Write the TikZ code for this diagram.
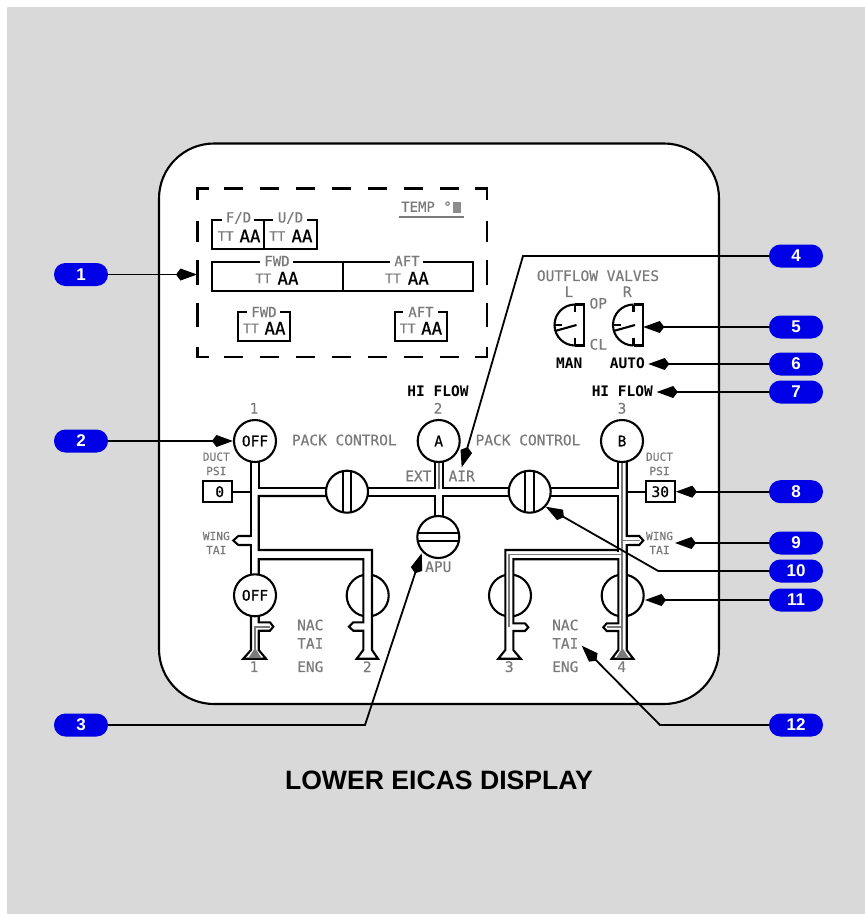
\documentclass[tikz,border=0pt]{standalone}
\usepackage{fontspec}
\setmainfont{Liberation Sans}
\newfontfamily\mono{DejaVu Sans Mono}[FakeBold=0.35]
\newfontfamily\monom{DejaVu Sans Mono}[FakeBold=0.7]
\newfontfamily\monob{DejaVu Sans Mono Bold}
\usetikzlibrary{arrows.meta}
\definecolor{pillblue}{HTML}{0000E6}
\definecolor{bggray}{HTML}{D9D9D9}
\definecolor{txtgray}{HTML}{7A7A7A}
\newcommand{\fsA}{\mono\fontsize{14.5}{14.5}\selectfont}
\newcommand{\fsB}{\monob\fontsize{14.5}{14.5}\selectfont}
\newcommand{\fsV}{\monom\fontsize{14.5}{14.5}\selectfont}
\newcommand{\fsS}{\mono\fontsize{11.2}{11.2}\selectfont}
\newcommand{\fsAA}{\monom\fontsize{17.5}{17.5}\selectfont}
\newcommand{\fsT}{\mono\fontsize{13}{13}\selectfont}
\newcommand{\fsL}{\mono\fontsize{14}{14}\selectfont}
\tikzset{
  x=1pt,y=-1pt,
  ln/.style={draw=black,line width=2.1pt,line join=miter},
  core/.style={draw=txtgray,line width=1.9pt},
  txt/.style={inner sep=0pt,text=txtgray,font=\fsA},
  blk/.style={inner sep=0pt,text=black,font=\fsB},
  small/.style={inner sep=0pt,text=txtgray,font=\fsS},
  big/.style={inner sep=0pt,text=black,font=\fsAA},
  tt/.style={inner sep=0pt,text=txtgray,font=\fsT},
  lab/.style={inner sep=0pt,text=txtgray,font=\fsL},
  valve/.style={circle,draw=black,line width=2.1pt,fill=white,minimum size=42pt,inner sep=0pt,font=\fsV},
  pill/.style={rectangle,rounded corners=11.4pt,fill=pillblue,text=white,minimum width=54pt,minimum height=23pt,inner sep=0pt,font=\fontsize{17}{17}\selectfont\bfseries},
  lead/.style={draw=black,line width=1.8pt,-{Kite[length=21pt,width=12pt,inset=4.5pt]}},
  vbox/.style={draw=black,line width=2.1pt,fill=white,inner sep=0pt,minimum width=29pt,minimum height=21pt,font=\fsV},
}
\begin{document}
\begin{tikzpicture}
\useasboundingbox (0,0) rectangle (865,914);
\fill[white] (0,0) rectangle (865,914);
\fill[bggray] (7,7) rectangle (865,914);
\draw[line width=2.1pt,fill=white,rounded corners=55pt] (159,143.5) rectangle (719,704);

% dashed frame
\foreach \a/\b in {224/243,260/279,296/315,332/351,368/387,404/423,440/459}{
  \draw[ln] (\a,188.5) -- (\b,188.5);
  \draw[ln] (\a,356.7) -- (\b,356.7);
}
\foreach \a/\b in {220.7/241.7,260/285,303/327}{
  \draw[ln] (197.5,\a) -- (197.5,\b);
  \draw[ln] (486.7,\a) -- (486.7,\b);
}
\draw[ln] (197.5,200) -- (197.5,188.5) -- (209,188.5);
\draw[ln] (475,188.5) -- (486.7,188.5) -- (486.7,200);
\draw[ln] (197.5,347) -- (197.5,356.7) -- (209,356.7);
\draw[ln] (475,356.7) -- (486.7,356.7) -- (486.7,347);

% temp
\node[lab,anchor=west] (temp) at (401,206.7) {TEMP °};
\fill[gray!90] (453,201.7) rectangle (460.7,213.3);
\draw[draw=txtgray,line width=1.8pt] (399,216.7) -- (464,216.7);

% zone boxes
\draw[ln] (221.5,220) -- (211.7,220) -- (211.7,249) -- (316.7,249) -- (316.7,220) -- (306.5,220);
\draw[ln] (253.5,220) -- (273,220);
\draw[ln] (263.7,220) -- (263.7,249);
\draw[ln] (260,261.7) -- (211.7,261.7) -- (211.7,290.7) -- (473.3,290.7) -- (473.3,261.7) -- (423,261.7);
\draw[ln] (293,261.7) -- (390,261.7);
\draw[ln] (343,261.7) -- (343,290.7);
\draw[ln] (246.7,311.7) -- (237.7,311.7) -- (237.7,341) -- (290,341) -- (290,311.7) -- (280,311.7);
\draw[ln] (403,311.7) -- (394.7,311.7) -- (394.7,341) -- (447.3,341) -- (447.3,311.7) -- (438,311.7);

\node[lab] (lfd) at (238.5,218) {F/D};
\node[lab] (lud) at (290.5,218) {U/D};
\node[lab] (lfwd) at (277,261) {FWD};
\node[lab] (laft) at (407,261) {AFT};
\node[lab] (lfwd2) at (264,312) {FWD};
\node[lab] (laft2) at (421,312) {AFT};
\foreach \n/\tx/\ax/\y in {a/225.7/250/236,b/277.3/302/236,c/263.3/288/278.3,d/393/418.3/278.3,e/251/275/328.3,f/407.7/431.7/328.3}{
  \node[tt] (tt\n) at (\tx,\y) {TT};
  \node[big] (aa\n) at (\ax,\y) {AA};
}

% outflow valves
\node[txt] (ofv) at (598,275.7) {OUTFLOW VALVES};
\node[txt] (ofl) at (569,291.7) {L};
\node[txt] (ofr) at (627.3,291.7) {R};
\node[txt] (op) at (598.3,303.3) {OP};
\node[txt] (cl) at (598.3,344.3) {CL};
\node[blk] (man) at (569.3,363.3) {MAN};
\node[blk] (auto) at (627.3,363.3) {AUTO};
\foreach \c/\r in {575/584,633.5/642.7}{
  \draw[ln] (\c,304.5) arc[start angle=270,end angle=90,radius=20.5];
  \draw[ln] (\c,304.5) -- (\r,304.5) -- (\r,345.5) -- (\c,345.5);
  \draw[ln] (\c,304.5) -- (\c,312);
  \draw[ln] (\c,345.5) -- (\c,338);
  \draw[ln] (\c-20.5,325) -- (\c-13,325);
  \draw[ln] (\c-20,331) -- (\c+1.5,325);
}

% labels
\node[blk] (hf2) at (438,391) {HI FLOW};
\node[blk] (hf3) at (622.3,391) {HI FLOW};
\node[txt] (n1) at (254,408.3) {1};
\node[txt] (n2) at (438,408.3) {2};
\node[txt] (n3) at (622,408.3) {3};
\node[txt] (pc1) at (344.3,440) {PACK CONTROL};
\node[txt] (pc2) at (528,440) {PACK CONTROL};
\node[txt] (ext) at (418.3,476) {EXT};
\node[txt] (air) at (461.7,476) {AIR};
\node[txt] (apu) at (438.3,566.7) {APU};
\node[small] (dp1a) at (216.3,456.7) {DUCT};
\node[small] (dp1b) at (216.3,471) {PSI};
\node[small] (dp2a) at (659.5,456.7) {DUCT};
\node[small] (dp2b) at (659.5,471) {PSI};
\node[small] (wt1a) at (216.3,536) {WING};
\node[small] (wt1b) at (216.3,550) {TAI};
\node[small] (wt2a) at (659.5,536) {WING};
\node[small] (wt2b) at (659.5,550) {TAI};
\node[txt] (nac1) at (310.3,625) {NAC};
\node[txt] (tai1) at (310.3,643.3) {TAI};
\node[txt] (eng1) at (310.3,666.7) {ENG};
\node[txt] (nac2) at (565.3,625) {NAC};
\node[txt] (tai2) at (565.3,643.3) {TAI};
\node[txt] (eng2) at (565.3,666.7) {ENG};
\node[txt] (e1) at (254,666.7) {1};
\node[txt] (e2) at (367.3,666.7) {2};
\node[txt] (e3) at (509.3,666.7) {3};
\node[txt] (e4) at (621.7,666.7) {4};

% engine valves (behind ducts)
\node[valve] (v2) at (367.7,595.5) {};
\node[valve] (v3) at (510,595.5) {};
\node[valve] (v4) at (622.7,595.5) {};
\fill[white] (363.3,555) rectangle (372,650);
\fill[white] (505.3,555) rectangle (513.3,650);
\fill[white] (618.3,555) rectangle (626.7,650);

% duct gauges
\node[vbox] (psi1) at (217.2,491.7) {\hspace*{5pt}0};
\node[vbox] (psi2) at (660.3,491.7) {30};

% left duct
\draw[ln] (251,461) -- (251,574);
\draw[ln] (258.7,461) -- (258.7,488.3) -- (327,488.3);
\draw[ln] (258.7,574) -- (258.7,559.2) -- (363.3,559.2) -- (363.3,622.3) -- (353.3,622.3) -- (349,626.7) -- (353.3,630.7) -- (363.3,630.7) -- (363.3,650) -- (356.7,658.7) -- (378,658.7) -- (372,650) -- (372,550) -- (258.7,550) -- (258.7,496) -- (327,496);
\fill[white] (249,537.1) rectangle (253,543.9);
\draw[ln] (251,536) -- (238.3,536) -- (233.3,540.5) -- (238.3,545) -- (251,545);
\draw[ln] (231.7,491.7) -- (251,491.7);

% engine 1
\draw[ln] (251,616.5) -- (251,650) -- (243.3,658.7) -- (266,658.7) -- (258.7,650) -- (258.7,630.7) -- (270,630.7) -- (273.3,626.7) -- (270,622.3) -- (258.7,622.3) -- (258.7,616.5);
\draw[core] (270,626.7) -- (255,626.7) -- (255,650);
\fill[txtgray] (255,648) -- (248.5,658) -- (261.5,658) -- cycle;

% centre
\draw[ln] (368,488.3) -- (434.7,488.3) -- (434.7,461);
\draw[ln] (442.7,461) -- (442.7,488.3) -- (510,488.3);
\draw[ln] (368,496) -- (434.7,496) -- (434.7,517);
\draw[ln] (510,496) -- (442.7,496) -- (442.7,517);
\draw[core] (438.7,461) -- (438.7,488.5);

% right duct
\draw[ln] (550,488.3) -- (618.3,488.3) -- (618.3,461);
\draw[ln] (550,496) -- (618.3,496) -- (618.3,551.5);
\draw[ln] (618.3,550) -- (505.3,550) -- (505.3,650) -- (498.3,658.7) -- (520.7,658.7) -- (513.3,650) -- (513.3,631) -- (525,631) -- (528.3,627.3) -- (525,623.3) -- (513.3,623.3) -- (513.3,559.2) -- (618.3,559.2) -- (618.3,623.3) -- (606.7,623.3) -- (603.3,627.3) -- (606.7,631) -- (618.3,631) -- (618.3,650) -- (611.7,658.7) -- (633.3,658.7) -- (626.7,650) -- (626.7,545) -- (639.3,545) -- (643.3,540.5) -- (639.3,536) -- (626.7,536) -- (626.7,461);
\draw[ln] (626.7,491.7) -- (645.7,491.7);
\fill[white] (625.3,537.1) rectangle (628,543.9);
\draw[core] (622.4,461) -- (622.4,650);
\draw[core] (622.4,540.5) -- (640,540.5);
\draw[core] (622.4,554.5) -- (509.2,554.5) -- (509.2,627);
\draw[core] (622.4,627.2) -- (607,627.2);
\fill[txtgray] (622.4,648) -- (616,658) -- (629,658) -- cycle;

% pack, isolation, apu, engine valves
\node[valve] (pack1) at (255,441) {OFF};
\node[valve] (pack2) at (438.7,441) {A};
\node[valve] (pack3) at (622,441) {B};
\node[valve] (eng1v) at (255,595.3) {OFF};
\node[valve] (isoL) at (347,491.7) {};
\draw[ln] (342.7,471) -- (342.7,512.5);
\draw[ln] (351,471) -- (351,512.5);
\node[valve] (isoR) at (529.7,491.7) {};
\draw[ln] (525.3,471) -- (525.3,512.5);
\draw[ln] (534,471) -- (534,512.5);
\node[valve] (apuv) at (438.3,537) {};
\draw[ln] (417.5,533) -- (459,533);
\draw[ln] (417.5,541) -- (459,541);

% title
\node[inner sep=0pt,font=\fontsize{26.6}{26.6}\selectfont\bfseries] (title) at (439,780) {LOWER EICAS DISPLAY};

% pills
\foreach \n/\x/\y in {1/81/274.5,2/81/441,3/81/725,4/796/256,5/796/327,6/796/364,7/796/392,8/796/491.7,9/796/543,10/796/571,11/796/600,12/796/725}{
  \node[pill] (p\n) at (\x,\y) {\n};
}
\coordinate (t1) at (197,274.5);
\coordinate (t3) at (421.7,553.3);
\coordinate (b3) at (365,725);
\coordinate (t4) at (461.7,467.3);
\coordinate (b4) at (523,256);
\coordinate (t5) at (643.3,327);
\coordinate (t6) at (648.3,364);
\coordinate (t7) at (656.7,392);
\coordinate (t9) at (675,543);
\coordinate (t10) at (545.7,506.7);
\coordinate (b10) at (658.3,571);
\coordinate (t11) at (645,600);
\coordinate (t12) at (581.7,645.7);
\coordinate (b12) at (660,725);
\draw[lead] (p1.east) -- (t1);
\draw[lead] (p2.east) -- (pack1.west);
\draw[lead] (p3.east) -- (b3) -- (t3);
\draw[lead] (p4.west) -- (b4) -- (t4);
\draw[lead] (p5.west) -- (t5);
\draw[lead] (p6.west) -- (t6);
\draw[lead] (p7.west) -- (t7);
\draw[lead] (p8.west) -- (psi2.east);
\draw[lead] (p9.west) -- (t9);
\draw[lead] (p10.west) -- (b10) -- (t10);
\draw[lead] (p11.west) -- (t11);
\draw[lead] (p12.west) -- (b12) -- (t12);
\end{tikzpicture}
\end{document}
